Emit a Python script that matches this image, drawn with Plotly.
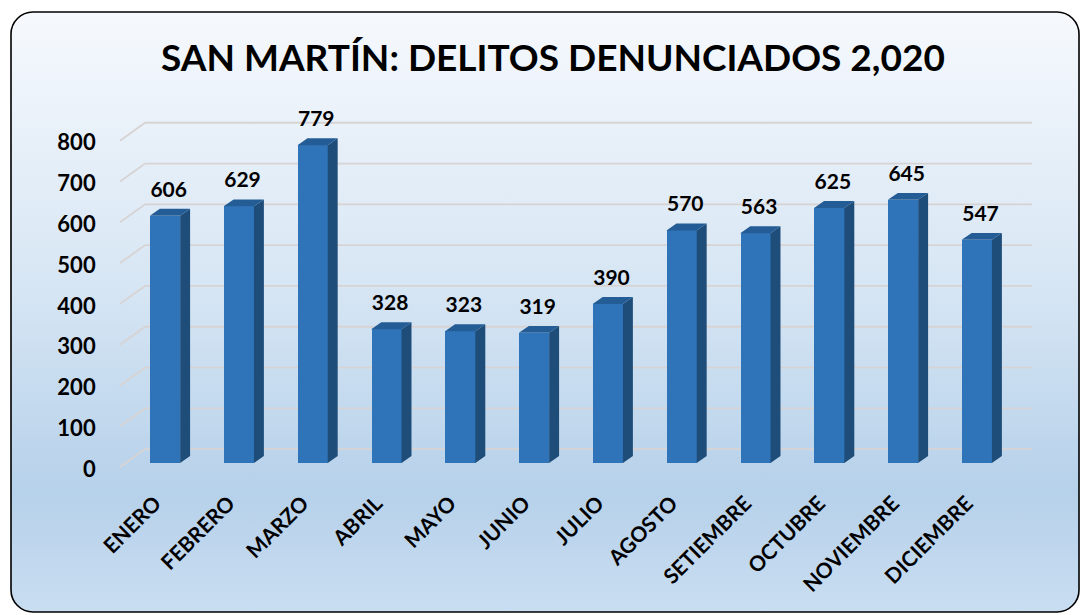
import base64
import plotly.graph_objects as go

# ---- data ----
months = ["ENERO", "FEBRERO", "MARZO", "ABRIL", "MAYO", "JUNIO", "JULIO",
          "AGOSTO", "SETIEMBRE", "OCTUBRE", "NOVIEMBRE", "DICIEMBRE"]
delitos = [606, 629, 779, 328, 323, 319, 390, 570, 563, 625, 645, 547]
y_ticks = [0, 100, 200, 300, 400, 500, 600, 700, 800]
title_text = "SAN MARTÍN: DELITOS DENUNCIADOS 2,020"

W, H = 1081, 615
FONT = "Lato"

# ---- geometry (style) ----
bar_w = 0.41      # front face width (category units)
dx = 0.135        # depth shift in x
dy = 17           # depth shift in y (value units)
x_front = -0.61
x_back = -0.27
x_right = 11.75
grid_front = -10
grid_back = 34

xs = list(range(len(months)))

# ---- background (gradient rounded panel) ----
svg = f'''<svg xmlns="http://www.w3.org/2000/svg" width="{W}" height="{H}" viewBox="0 0 {W} {H}" preserveAspectRatio="none">
<defs><linearGradient id="g" x1="0" y1="0" x2="0" y2="1">
<stop offset="0" stop-color="#f6f9fd"/>
<stop offset="0.45" stop-color="#d7e6f4"/>
<stop offset="0.8" stop-color="#b6d1ea"/>
<stop offset="1" stop-color="#c9ddf1"/>
</linearGradient></defs>
<rect x="0" y="0" width="{W}" height="{H}" fill="#ffffff"/>
<rect x="11" y="12" width="1068" height="600" rx="22" ry="22" fill="url(#g)" stroke="#000000" stroke-width="1.6"/>
</svg>'''
src = "data:image/svg+xml;base64," + base64.b64encode(svg.encode("utf-8")).decode("ascii")

fig = go.Figure()

# gridlines (3D wall) built from tick values, drawn below traces
grid_shapes = []
for t in y_ticks:
    grid_shapes.append(dict(type="path", xref="x", yref="y", layer="below",
                            path=f"M {x_front},{t + grid_front} L {x_back},{t + grid_back} L {x_right},{t + grid_back}",
                            line=dict(color="#d8d3d3", width=1.8)))

# front faces
fig.add_trace(go.Bar(x=xs, y=delitos, width=bar_w,
                     marker=dict(color="#2f74b8", line=dict(width=0)),
                     showlegend=False, hoverinfo="skip"))

# side faces
sx, sy = [], []
for i, v in zip(xs, delitos):
    r = i + bar_w / 2
    sx += [r, r + dx, r + dx, r, r, None]
    sy += [0, dy, v + dy, v, 0, None]
fig.add_trace(go.Scatter(x=sx, y=sy, mode="lines", fill="toself",
                         fillcolor="#1f4d7a", line=dict(width=0, color="#1f4d7a"),
                         hoverinfo="skip", showlegend=False))

# top faces
tx, ty = [], []
for i, v in zip(xs, delitos):
    l = i - bar_w / 2
    r = i + bar_w / 2
    tx += [l, l + dx, r + dx, r, l, None]
    ty += [v, v + dy, v + dy, v, v, None]
fig.add_trace(go.Scatter(x=tx, y=ty, mode="lines", fill="toself",
                         fillcolor="#245d96", line=dict(width=0, color="#245d96"),
                         hoverinfo="skip", showlegend=False))

# value labels
fig.add_trace(go.Scatter(x=[i + 0.05 for i in xs], y=[v + 60 for v in delitos],
                         mode="text", text=[str(v) for v in delitos],
                         textposition="middle center",
                         textfont=dict(family=FONT, size=21, color="#000000", weight="bold"),
                         cliponaxis=False, hoverinfo="skip", showlegend=False))

px_per_unit = 73.8
x0_px = 165
xr = [-0.75, 11.85]
dom_l = (x0_px + xr[0] * px_per_unit) / W
dom_r = (x0_px + xr[1] * px_per_unit) / W

ypx = 0.408
base_px = 463
y_bot_px, y_top_px = 475, 100
yr = [-(y_bot_px - base_px) / ypx, (base_px - y_top_px) / ypx]

fig.update_layout(
    width=W, height=H,
    autosize=False,
    margin=dict(l=0, r=0, t=0, b=0, pad=0, autoexpand=False),
    paper_bgcolor="rgba(0,0,0,0)",
    plot_bgcolor="rgba(0,0,0,0)",
    bargap=0,
    shapes=grid_shapes,
    images=[dict(source=src, xref="paper", yref="paper", x=0, y=1,
                 sizex=1, sizey=1, xanchor="left", yanchor="top",
                 sizing="stretch", layer="below")],
    xaxis=dict(domain=[dom_l, dom_r], range=xr, showgrid=False, zeroline=False,
               showline=False, automargin=False, tickmode="array", tickvals=xs,
               ticktext=months, tickangle=-45, ticklabelstandoff=11, ticklabelshift=-10,
               tickfont=dict(family=FONT, size=21, color="#000000", weight="bold")),
    yaxis=dict(domain=[(H - y_bot_px) / H, (H - y_top_px) / H], range=yr,
               showgrid=False, zeroline=False, showline=False, automargin=False,
               tickmode="array", tickvals=y_ticks, ticktext=[str(t) for t in y_ticks],
               ticklabelshift=6, ticklabelstandoff=13,
               tickfont=dict(family=FONT, size=22, color="#000000", weight="bold")),
    annotations=[dict(text=title_text, xref="paper", yref="paper",
                      x=553 / W, y=(H - 57) / H, xanchor="center", yanchor="middle",
                      showarrow=False,
                      font=dict(family=FONT, size=37, color="#000000", weight="bold"))],
)

fig.write_html("out.html", config={"displayModeBar": False, "responsive": False},
               post_script="document.body.style.margin='0px';")
